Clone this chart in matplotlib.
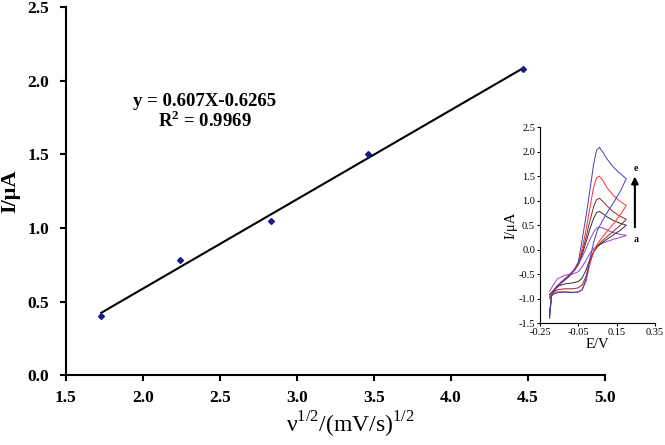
import matplotlib.pyplot as plt

# main plot: peak current vs square root of scan rate
sqrt_v = [1.73, 2.24, 2.83, 3.46, 4.47]
peak_i = [0.40, 0.78, 1.05, 1.50, 2.08]
slope, intercept = 0.607, -0.6265

# inset: cyclic voltammograms a..e (forward and reverse branches)
e_fwd = [-0.20, -0.19, -0.17, -0.14, -0.10, -0.07, -0.05, -0.03, -0.01, 0.01, 0.03, 0.045, 0.06, 0.08, 0.10, 0.13, 0.16, 0.20]
e_rev = [0.20, 0.17, 0.14, 0.11, 0.08, 0.05, 0.03, 0.01, -0.01, -0.03, -0.05, -0.08, -0.12, -0.16, -0.185, -0.20]

cv_fwd = {
    'a': [-1.40, -0.95, -0.78, -0.66, -0.52, -0.40, -0.30, -0.15, 0.02, 0.20, 0.36, 0.44, 0.46, 0.44, 0.40, 0.35, 0.32, 0.29],
    'b': [-1.30, -0.95, -0.80, -0.68, -0.55, -0.42, -0.30, -0.10, 0.15, 0.42, 0.64, 0.76, 0.78, 0.73, 0.67, 0.60, 0.55, 0.50],
    'c': [-1.30, -0.95, -0.80, -0.68, -0.55, -0.42, -0.30, -0.05, 0.25, 0.58, 0.88, 1.02, 1.05, 0.98, 0.89, 0.78, 0.70, 0.62],
    'd': [-1.35, -0.95, -0.80, -0.68, -0.55, -0.42, -0.28, 0.02, 0.40, 0.85, 1.28, 1.47, 1.50, 1.40, 1.26, 1.12, 1.01, 0.90],
    'e': [-1.40, -0.95, -0.80, -0.68, -0.55, -0.40, -0.25, 0.20, 0.68, 1.20, 1.75, 2.03, 2.09, 1.98, 1.85, 1.70, 1.58, 1.45],
}
cv_rev = {
    'a': [0.29, 0.25, 0.22, 0.18, 0.14, 0.08, 0.02, -0.08, -0.22, -0.35, -0.45, -0.50, -0.52, -0.60, -0.75, -0.85],
    'b': [0.50, 0.40, 0.32, 0.24, 0.16, 0.06, -0.04, -0.20, -0.42, -0.58, -0.65, -0.68, -0.70, -0.75, -0.85, -0.92],
    'c': [0.62, 0.50, 0.40, 0.30, 0.20, 0.08, -0.05, -0.25, -0.55, -0.72, -0.78, -0.80, -0.80, -0.82, -0.88, -0.95],
    'd': [0.90, 0.72, 0.56, 0.42, 0.28, 0.12, -0.04, -0.30, -0.65, -0.82, -0.86, -0.87, -0.86, -0.86, -0.90, -0.97],
    'e': [1.45, 1.20, 1.00, 0.82, 0.62, 0.40, 0.15, -0.20, -0.60, -0.82, -0.87, -0.88, -0.87, -0.88, -0.92, -1.00],
}
cv_colors = {'a': '#a040c0', 'b': '#303030', 'c': '#8b2a2a', 'd': '#ff3030', 'e': '#4040c0'}

plt.rcParams['font.family'] = ['Liberation Serif', 'DejaVu Serif']

fig = plt.figure(figsize=(6.65, 4.45), dpi=100)
ax = fig.add_axes([0.099, 0.157, 0.811, 0.827])

fit_x = [sqrt_v[0], sqrt_v[-1]]
fit_y = [slope * x + intercept for x in fit_x]
ax.plot(fit_x, fit_y, color='black', lw=1.5, zorder=2)
ax.plot(sqrt_v, peak_i, 'D', color='#1a1a8c', ms=3, zorder=3)

ax.set_xlim(1.5, 5.0)
ax.set_ylim(0, 2.5)
ax.set_xticks([1.5, 2.0, 2.5, 3.0, 3.5, 4.0, 4.5, 5.0])
ax.set_yticks([0.0, 0.5, 1.0, 1.5, 2.0, 2.5])
ax.xaxis.set_major_formatter(plt.FormatStrFormatter('%.1f'))
ax.yaxis.set_major_formatter(plt.FormatStrFormatter('%.1f'))
for s in ['top', 'right']:
    ax.spines[s].set_visible(False)
for s in ['left', 'bottom']:
    ax.spines[s].set_linewidth(1.5)
ax.tick_params(direction='out', length=4, width=1.5, labelsize=12.5)
ax.tick_params(axis='x', pad=7)
ax.tick_params(axis='y', pad=8)
for lab in ax.get_xticklabels() + ax.get_yticklabels():
    lab.set_fontweight('bold')
ax.set_xlabel('ν$^{\\mathregular{1/2}}$/(mV/s)$^{\\mathregular{1/2}}$', fontsize=17)
ax.xaxis.set_label_coords(0.527, -0.095)
ax.set_ylabel('I/μA', fontsize=16, fontweight='bold')
ax.yaxis.set_label_coords(-0.085, 0.5)

ax.text(2.4, 1.86, 'y = 0.607X-0.6265', fontsize=13.5, fontweight='bold', ha='center', va='center')
ax.text(2.4, 1.73, 'R$^{\\mathregular{2}}$ = 0.9969', fontsize=13.5, fontweight='bold', ha='center', va='center')

# inset with the voltammograms
ins = fig.add_axes([0.812, 0.274, 0.173, 0.44])
for k in ['a', 'b', 'c', 'd', 'e']:
    ins.plot(e_fwd + e_rev, cv_fwd[k] + cv_rev[k], color=cv_colors[k], lw=0.7)
ins.set_xlim(-0.25, 0.35)
ins.set_ylim(-1.5, 2.5)
ins.set_xticks([-0.25, -0.05, 0.15, 0.35])
ins.set_xticklabels(['-0.25', '-0.05', '0.15', '0.35'])
ins.set_yticks([-1.5, -1.0, -0.5, 0.0, 0.5, 1.0, 1.5, 2.0, 2.5])
ins.yaxis.set_major_formatter(plt.FormatStrFormatter('%.1f'))
for s in ['top', 'right']:
    ins.spines[s].set_visible(False)
ins.tick_params(direction='out', length=2, width=0.8, labelsize=7.5, pad=1.5)
ins.set_xlabel('E/V', fontsize=10.5, labelpad=1)
ins.set_ylabel('I/μA', fontsize=10.5, labelpad=1)
ins.annotate('', xy=(0.245, 1.55), xytext=(0.245, 0.40),
             arrowprops=dict(arrowstyle='-|>', color='black', lw=1.5, mutation_scale=10))
ins.text(0.25, 1.65, 'e', fontsize=7, fontweight='bold', ha='center', va='center')
ins.text(0.25, 0.20, 'a', fontsize=7, fontweight='bold', ha='center', va='center')

fig.savefig('out.png', dpi=100)
